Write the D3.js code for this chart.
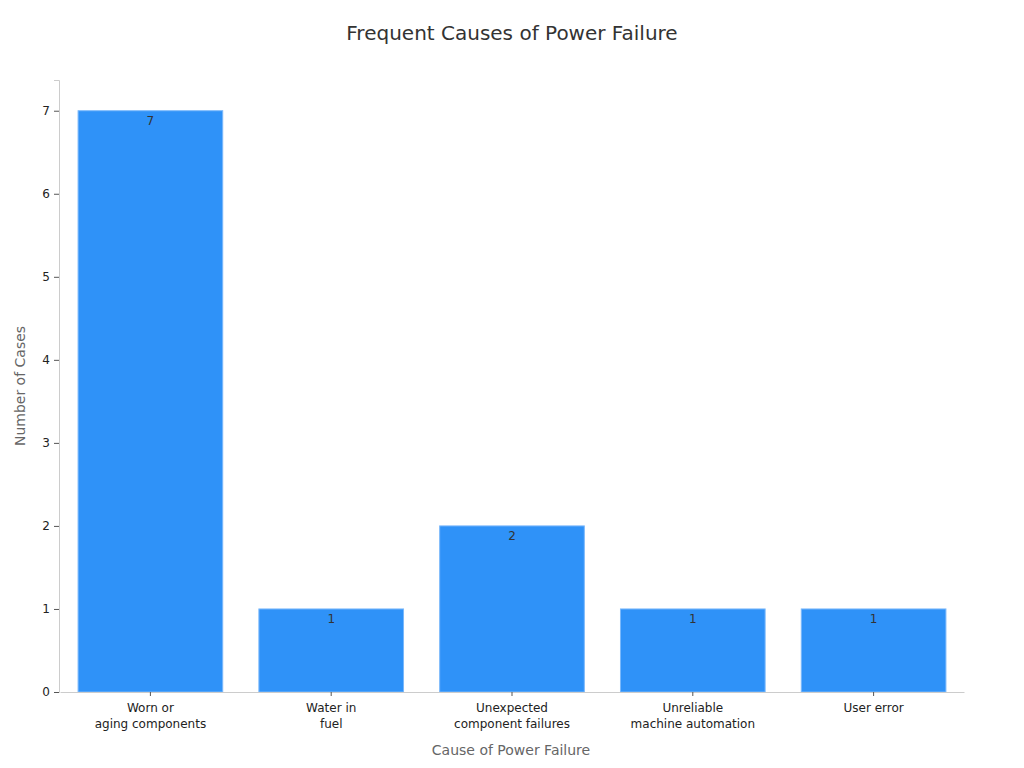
<!DOCTYPE html>
<html>
<head>
<meta charset="utf-8">
<title>Frequent Causes of Power Failure</title>
<script src="https://d3js.org/d3.v7.min.js" charset="utf-8"></script>
<style>
body {
    margin: 0;
    background: white;
    font-family: "DejaVu Sans", sans-serif;
}
.axis text {
    font-family: "DejaVu Sans", sans-serif;
    font-size: 12px;
    fill: #222;
}
</style>
</head>
<body>
<script>
// chart data
var causes = [
    ["Worn or", "aging components"],
    ["Water in", "fuel"],
    ["Unexpected", "component failures"],
    ["Unreliable", "machine automation"],
    ["User error"]
];
var cases = [7, 1, 2, 1, 1];
var yTicks = [0, 1, 2, 3, 4, 5, 6, 7];

var width = 1024;
var height = 768;
var margin = {top: 80, right: 61, bottom: 76, left: 59};

var svg = d3.select("body")
    .append("svg")
    .attr("width", width)
    .attr("height", height);

var x = d3.scaleBand()
    .domain(d3.range(causes.length))
    .range([margin.left + 1, width - margin.right + 1])
    .paddingInner(0.2)
    .paddingOuter(0.1);

var y = d3.scaleLinear()
    .domain([0, 7.37])
    .range([height - margin.bottom, margin.top]);

// title
svg.append("text")
    .attr("x", width / 2)
    .attr("y", 40)
    .attr("text-anchor", "middle")
    .style("font-size", "20px")
    .style("fill", "#333")
    .text("Frequent Causes of Power Failure");

// bars
svg.append("g")
    .selectAll("rect")
    .data(cases)
    .enter()
    .append("rect")
    .attr("x", function(d, i) { return x(i); })
    .attr("y", function(d) { return y(d); })
    .attr("width", x.bandwidth())
    .attr("height", function(d) { return y(0) - y(d); })
    .attr("fill", "#2f92f8")
    .attr("stroke", "#7ab8fb")
    .attr("stroke-width", 1);

// value labels
svg.append("g")
    .selectAll("text")
    .data(cases)
    .enter()
    .append("text")
    .attr("x", function(d, i) { return x(i) + x.bandwidth() / 2; })
    .attr("y", function(d) { return y(d) + 14; })
    .attr("text-anchor", "middle")
    .style("font-size", "12px")
    .style("fill", "#333")
    .text(function(d) { return d; });

// y axis
var yAxis = svg.append("g")
    .attr("class", "axis")
    .attr("transform", "translate(" + margin.left + ",0)")
    .call(d3.axisLeft(y).tickValues(yTicks).tickSize(5).tickPadding(4));
yAxis.select(".domain").attr("stroke", "#ccc");
yAxis.selectAll(".tick line").attr("stroke", "#555");

// x axis
var xAxis = svg.append("g")
    .attr("class", "axis")
    .attr("transform", "translate(0," + (height - margin.bottom) + ")")
    .call(d3.axisBottom(x).tickSize(4).tickSizeOuter(0).tickFormat(""));
xAxis.select(".domain").attr("stroke", "#ccc");
xAxis.selectAll(".tick line").attr("stroke", "#555");

xAxis.selectAll(".tick")
    .append("text")
    .attr("text-anchor", "middle")
    .attr("y", 20)
    .style("fill", "#222")
    .each(function(d) {
        var t = d3.select(this);
        causes[d].forEach(function(line, k) {
            t.append("tspan")
                .attr("x", 0)
                .attr("dy", k === 0 ? 0 : 16)
                .text(line);
        });
    });

// axis titles
svg.append("text")
    .attr("x", (margin.left + width - margin.right) / 2)
    .attr("y", 755)
    .attr("text-anchor", "middle")
    .style("font-size", "14px")
    .style("fill", "#666")
    .text("Cause of Power Failure");

svg.append("text")
    .attr("transform", "translate(25," + (margin.top + (height - margin.bottom - margin.top) / 2) + ") rotate(-90)")
    .attr("text-anchor", "middle")
    .style("font-size", "14px")
    .style("fill", "#666")
    .text("Number of Cases");
</script>
</body>
</html>
